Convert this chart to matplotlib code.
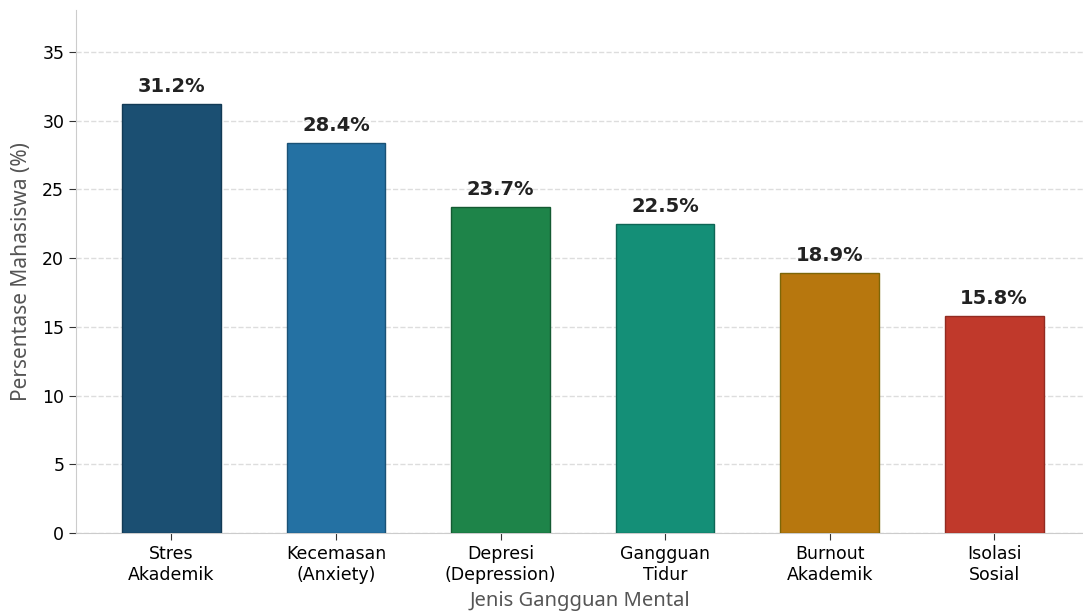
import matplotlib
matplotlib.use("Agg")
import matplotlib.pyplot as plt
import numpy as np

plt.rcParams["font.family"] = ["DejaVu Sans"]

# data
categories = ["Stres\nAkademik", "Kecemasan\n(Anxiety)", "Depresi\n(Depression)",
              "Gangguan\nTidur", "Burnout\nAkademik", "Isolasi\nSosial"]
values = [31.2, 28.4, 23.7, 22.5, 18.9, 15.8]
colors = ["#1b4f72", "#2471a3", "#1e8449", "#148f77", "#b7770e", "#c0392b"]
edges = ["#123a55", "#1a5276", "#145a32", "#0e6655", "#7d6608", "#922b21"]

fig = plt.figure(figsize=(10.83, 6.15), dpi=100)
ax = fig.add_axes([76 / 1083, 1 - 533 / 615, (1083 - 76) / 1083, (533 - 10) / 615])

x = np.arange(len(categories))
bars = ax.bar(x, values, width=0.6, color=colors, edgecolor=edges, linewidth=1, zorder=3)

for b, v in zip(bars, values):
    ax.text(b.get_x() + b.get_width() / 2, v + 0.6, f"{v}%", ha="center", va="bottom",
            fontsize=14, fontweight="bold", color="#222222")

ax.set_ylim(0, max(values) * 1.22)
ax.set_xlim(-0.58, 5.54)
ax.set_xticks(x)
ax.set_xticklabels(categories, fontsize=12.5)
ax.tick_params(axis="y", labelsize=12.5)
ax.tick_params(length=5, color="#333333")

ax.set_ylabel("Persentase Mahasiswa (%)", fontsize=15, color="#555555", family="Noto Sans", labelpad=7)
ax.set_xlabel("Jenis Gangguan Mental", fontsize=14.5, color="#555555", family="Noto Sans", labelpad=5)

ax.yaxis.grid(True, linestyle="--", color="#dddddd", linewidth=1, zorder=0)
ax.set_axisbelow(True)
for s in ["top", "right"]:
    ax.spines[s].set_visible(False)
for s in ["left", "bottom"]:
    ax.spines[s].set_color("#cccccc")

fig.savefig("out.png", dpi=100)
